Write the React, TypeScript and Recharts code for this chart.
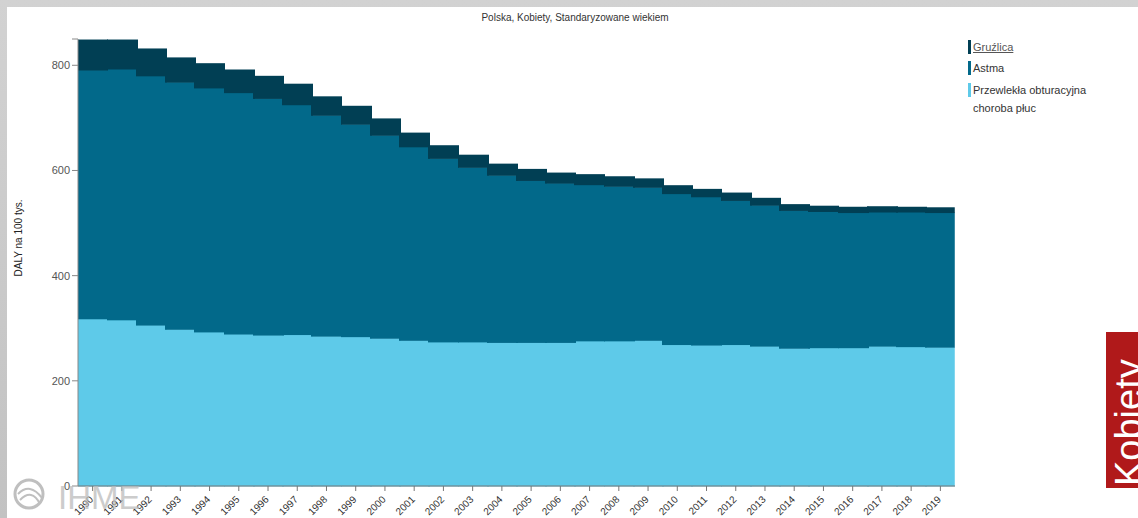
import React from "react";
import { BarChart, Bar, XAxis, YAxis } from "recharts";

const years = [
  "1990", "1991", "1992", "1993", "1994", "1995", "1996", "1997", "1998", "1999",
  "2000", "2001", "2002", "2003", "2004", "2005", "2006", "2007", "2008", "2009",
  "2010", "2011", "2012", "2013", "2014", "2015", "2016", "2017", "2018", "2019",
];

// DALY na 100 tys., Polska, Kobiety
const copd = [
  318, 316, 306, 298, 293, 289, 287, 288, 285, 284,
  281, 277, 274, 274, 273, 273, 273, 276, 276, 277,
  269, 268, 269, 266, 262, 263, 263, 266, 265, 264,
];
const asthma = [
  473, 477, 474, 470, 464, 459, 450, 437, 420, 404,
  386, 368, 349, 332, 318, 308, 303, 297, 294, 291,
  287, 282, 274, 268, 262, 259, 257, 255, 256, 256,
];
const tb = [
  58, 56, 52, 47, 47, 44, 43, 40, 36, 35,
  32, 27, 25, 24, 22, 22, 20, 20, 19, 17,
  16, 15, 15, 14, 12, 11, 11, 11, 10, 10,
];

const yTicks = [0, 200, 400, 600, 800, 850];

const data = years.map((year, i) => ({
  year,
  copd: copd[i],
  asthma: asthma[i],
  tb: tb[i],
}));

const FONT = '"Liberation Sans", Arial, sans-serif';

const YearTick = (props: any) => {
  const { x, y, payload } = props;
  return (
    <g transform={`translate(${x},${y})`}>
      <text
        x={0}
        y={0}
        dx={-4}
        dy={6}
        textAnchor="end"
        transform="rotate(-45)"
        fontSize={10}
        fill="#333"
        fontFamily={FONT}
      >
        {payload.value}
      </text>
    </g>
  );
};

// step block: overlap the next block by a pixel so no seams show
const StepBlock = (props: any) => {
  const { x, y, width, height, fill, index } = props;
  const left = Math.floor(x);
  const right = index === years.length - 1 ? x + width : Math.ceil(x + width) + 1;
  return <rect x={left} y={y} width={right - left} height={height + 0.5} fill={fill} />;
};

const legendItems = [
  { label: "Gruźlica", color: "#013f54", top: 40, underline: true },
  { label: "Astma", color: "#02698a", top: 61 },
  { label: "Przewlekła obturacyjna", color: "#5ecae9", top: 83 },
];

export default function App() {
  return (
    <div
      style={{
        position: "absolute",
        left: 0,
        top: 0,
        width: 1138,
        height: 518,
        overflow: "hidden",
        background: "linear-gradient(#d2d2d2, #c2c2c2)",
        fontFamily: FONT,
      }}
    >
      <div
        style={{
          position: "absolute",
          left: 7,
          top: 7,
          width: 1131,
          height: 511,
          background: "#fff",
        }}
      />
      <div
        style={{
          position: "absolute",
          left: 0,
          top: 12,
          width: 1150,
          textAlign: "center",
          fontSize: 10,
          color: "#333",
        }}
      >
        Polska, Kobiety, Standaryzowane wiekiem
      </div>
      <div style={{ position: "absolute", left: 0, top: 0 }}>
        <BarChart
          width={1138}
          height={518}
          data={data}
          margin={{ top: 39, right: 183, bottom: 0, left: 27 }}
          barCategoryGap={0}
          barGap={0}
        >
          <XAxis
            dataKey="year"
            height={32}
            interval={0}
            tick={<YearTick />}
            tickSize={5}
            axisLine={{ stroke: "#777" }}
            tickLine={{ stroke: "#777" }}
          />
          <YAxis
            width={51}
            domain={[0, 850]}
            ticks={yTicks}
            interval={0}
            tickFormatter={(v: number) => (v === 850 ? "" : String(v))}
            tickSize={6}
            tick={{ fontSize: 11, fill: "#555", fontFamily: FONT }}
            axisLine={{ stroke: "#888" }}
            tickLine={{ stroke: "#888" }}
          />
          <Bar dataKey="copd" stackId="a" fill="#5ecae9" shape={<StepBlock />} isAnimationActive={false} />
          <Bar dataKey="asthma" stackId="a" fill="#02698a" shape={<StepBlock />} isAnimationActive={false} />
          <Bar dataKey="tb" stackId="a" fill="#013f54" shape={<StepBlock />} isAnimationActive={false} />
        </BarChart>
      </div>
      <div
        style={{
          position: "absolute",
          left: 18,
          top: 238,
          transform: "translate(-50%, -50%) rotate(-90deg)",
          whiteSpace: "nowrap",
          fontSize: 10,
          color: "#222",
        }}
      >
        DALY na 100 tys.
      </div>
      {legendItems.map((item) => (
        <div key={item.label}>
          <div
            style={{
              position: "absolute",
              left: 968,
              top: item.top,
              width: 3,
              height: 14,
              background: item.color,
            }}
          />
          <div
            style={{
              position: "absolute",
              left: 973,
              top: item.top + 1,
              fontSize: 11,
              color: item.underline ? "#555" : "#333",
              textDecoration: item.underline ? "underline" : "none",
              whiteSpace: "nowrap",
            }}
          >
            {item.label}
          </div>
        </div>
      ))}
      <div
        style={{
          position: "absolute",
          left: 973,
          top: 102,
          fontSize: 11,
          color: "#333",
          whiteSpace: "nowrap",
        }}
      >
        choroba płuc
      </div>
      <div
        style={{
          position: "absolute",
          left: 1106,
          top: 332,
          width: 40,
          height: 156,
          background: "#b0191a",
          overflow: "hidden",
        }}
      >
        <div
          style={{
            position: "absolute",
            left: 4,
            top: 154,
            transformOrigin: "0 0",
            transform: "rotate(-90deg)",
            color: "#fff",
            fontSize: 38,
            lineHeight: "38px",
            whiteSpace: "nowrap",
          }}
        >
          Kobiety
        </div>
      </div>
      <svg
        width={140}
        height={45}
        style={{ position: "absolute", left: 8, top: 474, opacity: 0.75 }}
      >
        <circle cx={21} cy={20} r={14} fill="none" stroke="#aaa" strokeWidth={3} />
        <path d="M10 20 Q22 8 34 24" fill="none" stroke="#aaa" strokeWidth={2} />
        <path d="M12 26 Q24 14 32 30" fill="none" stroke="#aaa" strokeWidth={2} />
        <text x={50} y={35} fontSize={33} fill="#bbb" fontFamily={FONT}>
          IHME
        </text>
      </svg>
    </div>
  );
}
